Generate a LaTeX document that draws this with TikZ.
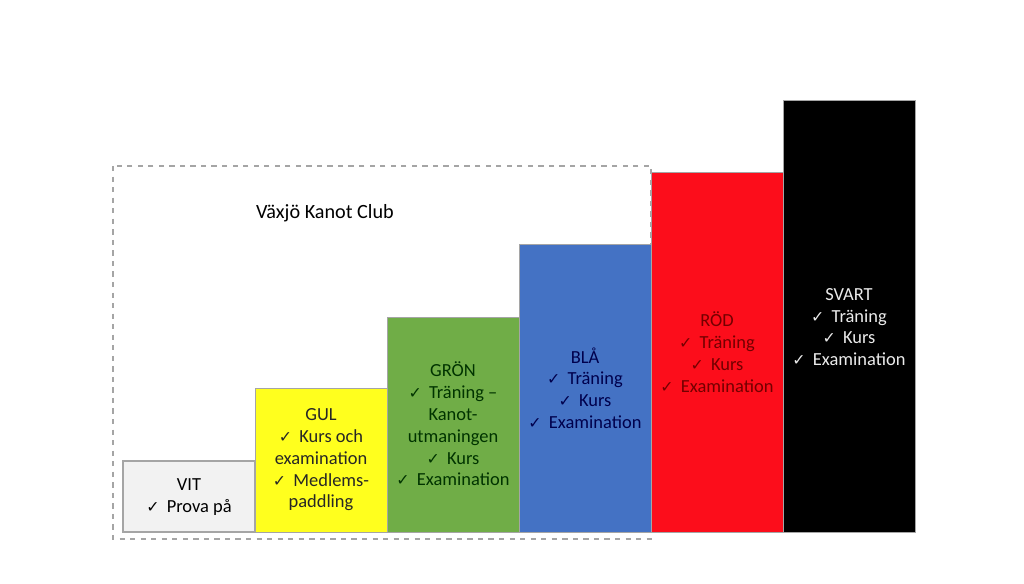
\documentclass[tikz,border=0pt]{standalone}
\usepackage{fontspec}
\setmainfont{Carlito}
\newfontfamily\symfont{DejaVu Sans}
\usetikzlibrary{positioning}
\definecolor{vitfill}{HTML}{F2F2F2}
\definecolor{gulfill}{HTML}{FFFF1E}
\definecolor{gronfill}{HTML}{70AD47}
\definecolor{blafill}{HTML}{4472C4}
\definecolor{rodfill}{HTML}{FC0D1B}
\definecolor{bardraw}{HTML}{A5A5A5}
\newcommand{\ck}{{\symfont\small ✓}\ \,}
\begin{document}
\begin{tikzpicture}[x=0.02cm,y=-0.02cm,bar/.style={draw=bardraw,line width=.4pt,anchor=north west,minimum width=2.64cm,inner sep=0pt,outer sep=0pt},txt/.style={align=center,font=\fontsize{10.5}{12.4}\selectfont}]
\useasboundingbox (0,0) rectangle (1024,584);
\draw[bardraw,dashed,line width=.6pt] (113,166) rectangle (651,539);
\node[font=\fontsize{11.5}{13}\selectfont] (club) at (325,213) {Växjö Kanot Club};
\node[bar,fill=vitfill,line width=.6pt,minimum height=1.42cm] (vit) at (123,461) {};
\node[bar,fill=gulfill,minimum height=2.88cm] (gul) at (255,388) {};
\node[bar,fill=gronfill,minimum height=4.30cm] (gron) at (387,317) {};
\node[bar,fill=blafill,minimum height=5.76cm] (bla) at (519,244) {};
\node[bar,fill=rodfill,minimum height=7.20cm] (rod) at (651,172) {};
\node[bar,fill=black,minimum height=8.64cm] (svart) at (783,100) {};
\node[txt] (vittxt) at (189,497) {VIT\\\ck Prova på};
\node[txt,text=black!85] (gultxt) at (321,460) {GUL\\\ck Kurs och\\examination\\\ck Medlems-\\paddling};
\node[txt,text=black!80!green] (grontxt) at (453,424) {GRÖN\\\ck Träning –\\Kanot-\\utmaningen\\\ck Kurs\\\ck Examination};
\node[txt,text=blue!30!black] (blatxt) at (585,388) {BLÅ\\\ck Träning\\\ck Kurs\\\ck Examination};
\node[txt,text=red!45!black] (rodtxt) at (717,352) {RÖD\\\ck Träning\\\ck Kurs\\\ck Examination};
\node[txt,text=white!92!black] (svarttxt) at (849,327) {SVART\\\ck Träning\\\ck Kurs\\\ck Examination};
\end{tikzpicture}
\end{document}
